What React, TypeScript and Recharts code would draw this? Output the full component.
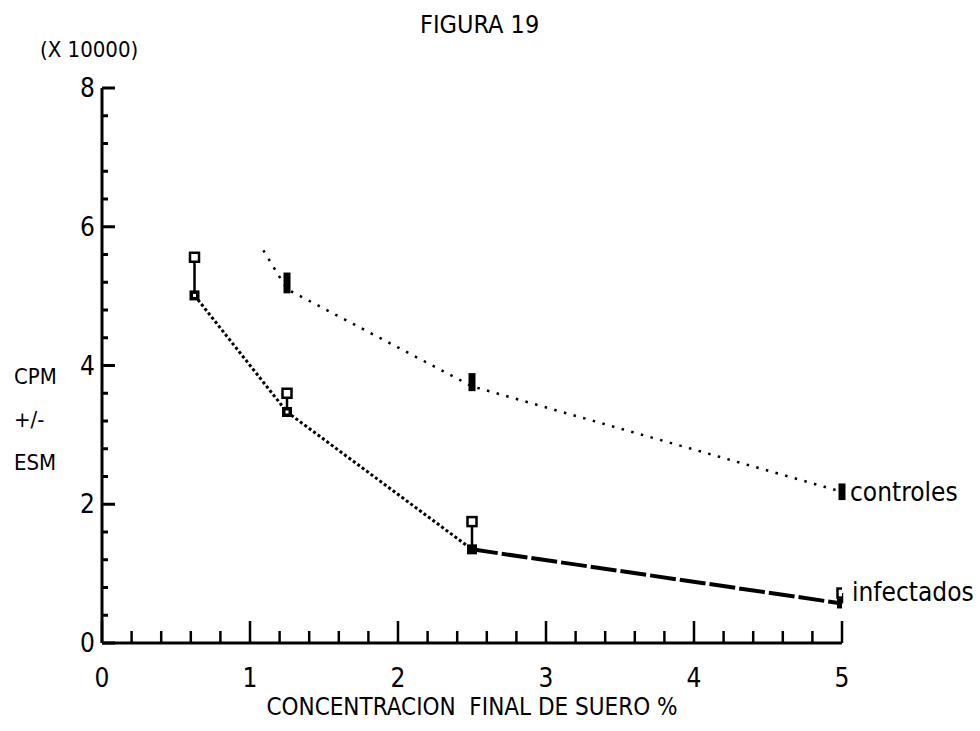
import React from 'react';
import { ComposedChart, Line, Scatter, XAxis, YAxis, ErrorBar } from 'recharts';

const FONT = "'Liberation Sans Narrow', 'DejaVu Sans Condensed', 'Liberation Sans', sans-serif";

const chartTitle = 'FIGURA 19';
const yUnitLabel = '(X 10000)';
const yAxisTitleLines = ['CPM', '+/-', 'ESM'];
const xAxisTitle = 'CONCENTRACION  FINAL DE SUERO %';
const seriesNames = ['controles', 'infectados'];

const xTicks = [0, 0.2, 0.4, 0.6, 0.8, 1, 1.2, 1.4, 1.6, 1.8, 2, 2.2, 2.4, 2.6, 2.8, 3, 3.2, 3.4, 3.6, 3.8, 4, 4.2, 4.4, 4.6, 4.8, 5];
const yTicks = [0, 0.4, 0.8, 1.2, 1.6, 2, 2.4, 2.8, 3.2, 3.6, 4, 4.4, 4.8, 5.2, 5.6, 6, 6.4, 6.8, 7.2, 7.6, 8];
const xTickLabels = ['0', '1', '2', '3', '4', '5'];
const yTickLabels = ['0', '', '2', '', '4', '', '6', '', '8'];

// infectados
const infectedConc = [0.625, 1.25, 2.5, 5];
const infectedMean = [5.01, 3.33, 1.35, 0.57];
const infectedUpper = [5.56, 3.6, 1.75, 0.72];

// controles
const controlConc = [1.25, 2.5, 5];
const controlMean = [5.19, 3.76, 2.18];
const controlSem = [0.15, 0.13, 0.12];

// dotted curve drawn for controles
const controlLineConc = [1.09, 1.25, 2.5, 5];
const controlLineValue = [5.66, 5.1, 3.7, 2.18];

const infectedData = infectedConc.map((x, i) => ({
  x,
  y: infectedMean[i],
  err: [0, +(infectedUpper[i] - infectedMean[i]).toFixed(3)],
  idx: i,
}));
const infectedFirst = infectedData.slice(0, 3);
const infectedSecond = infectedData.slice(2);
const infectedUpperData = infectedConc.map((x, i) => ({ x, y: infectedUpper[i] }));
const controlData = controlConc.map((x, i) => ({ x, y: controlMean[i], sem: controlSem[i] }));
const controlLine = controlLineConc.map((x, i) => ({ x, y: controlLineValue[i] }));

const isInt = (v: number) => Math.abs(v - Math.round(v)) < 1e-6;

const XTick = (props: any) => {
  const { x, y, payload } = props;
  const v = payload.value as number;
  const major = isInt(v);
  return (
    <g>
      <line x1={x} x2={x} y1={y} y2={y - (major ? 22 : 12)} stroke="#000" strokeWidth={2.5} />
      {major && (
        <text x={x} y={y + 44} textAnchor="middle" fontFamily={FONT} fontSize={26} fill="#000">
          {xTickLabels[Math.round(v)]}
        </text>
      )}
    </g>
  );
};

const YTick = (props: any) => {
  const { x, y, payload } = props;
  const v = payload.value as number;
  const major = isInt(v / 2);
  return (
    <g>
      <line x1={x} x2={x + (major ? 13 : 6)} y1={y} y2={y} stroke="#000" strokeWidth={3} />
      {major && (
        <text x={x - 7} y={y + 9} textAnchor="end" fontFamily={FONT} fontSize={26} fill="#000">
          {yTickLabels[Math.round(v)]}
        </text>
      )}
    </g>
  );
};

const XTitle = (props: any) => {
  const vb = props.viewBox || { x: 0, y: 0, width: 0 };
  return (
    <text x={vb.x + vb.width * 0.5} y={vb.y + 72} textAnchor="middle" fontFamily={FONT} fontSize={24} fill="#000" style={{ whiteSpace: 'pre' }}>
      {xAxisTitle}
    </text>
  );
};

const YTitle = (props: any) => {
  const vb = props.viewBox || { x: 0, y: 0, height: 0 };
  const ax = vb.x + (vb.width || 0);
  return (
    <g fontFamily={FONT} fontSize={22} fill="#000">
      <text x={ax - 62} y={vb.y - 31}>{yUnitLabel}</text>
      {yAxisTitleLines.map((t, i) => (
        <text key={t} x={ax - 88} y={vb.y + 296 + i * 43}>{t}</text>
      ))}
    </g>
  );
};

const OpenSquare = (props: any) => {
  const { cx, cy } = props;
  if (cx == null || cy == null) return <g />;
  return <rect x={cx - 4.5} y={cy - 4.5} width={9} height={9} fill="#fff" stroke="#000" strokeWidth={2.5} />;
};

const MainMarker = (props: any) => {
  const { cx, cy, payload } = props;
  if (cx == null || cy == null) return <g />;
  const solid = payload && payload.idx >= 2;
  return (
    <g>
      <rect x={cx - 5} y={cy - 5} width={10} height={10} fill="#000" />
      {!solid && <rect x={cx - 1.5} y={cy - 1.5} width={3} height={3} fill="#fff" />}
    </g>
  );
};

const Empty = () => <g />;

const controlLabel = (props: any) => {
  const { x, y, index } = props;
  if (index !== controlLine.length - 1) return <g />;
  return (
    <text x={x + 8} y={y + 9} fontFamily={FONT} fontSize={26} fill="#000">
      {seriesNames[0]}
    </text>
  );
};

const infectedLabel = (props: any) => {
  const { x, y, index } = props;
  if (index !== infectedSecond.length - 1) return <g />;
  return (
    <text x={x + 10} y={y - 2} fontFamily={FONT} fontSize={26} fill="#000">
      {seriesNames[1]}
    </text>
  );
};

export default function App() {
  return (
    <div style={{ position: 'absolute', left: 0, top: 0, width: 980, height: 731, background: '#fff' }}>
      <div
        style={{
          position: 'absolute',
          left: 420,
          top: 10,
          fontFamily: FONT,
          fontSize: 25,
          color: '#000',
          whiteSpace: 'pre',
          lineHeight: '30px',
        }}
      >
        {chartTitle}
      </div>
      <ComposedChart width={980} height={731} margin={{ top: 88, right: 138, bottom: 78, left: 92 }}>
        <XAxis
          type="number"
          dataKey="x"
          domain={[0, 5]}
          ticks={xTicks}
          interval={0}
          height={10}
          tickSize={0}
          tickMargin={0}
          tickLine={false}
          tick={<XTick />}
          axisLine={{ stroke: '#000', strokeWidth: 3 }}
          allowDataOverflow
          label={<XTitle />}
        />
        <YAxis
          type="number"
          domain={[0, 8]}
          ticks={yTicks}
          interval={0}
          width={10}
          tickSize={0}
          tickMargin={0}
          tickLine={false}
          tick={<YTick />}
          axisLine={{ stroke: '#000', strokeWidth: 3 }}
          allowDataOverflow
          label={<YTitle />}
        />
        <Line
          data={controlLine}
          dataKey="y"
          type="linear"
          stroke="#000"
          strokeWidth={2.5}
          strokeDasharray="2.5 7.5"
          dot={false}
          activeDot={false}
          isAnimationActive={false}
          label={controlLabel}
        />
        <Line
          data={infectedFirst}
          dataKey="y"
          type="linear"
          stroke="#000"
          strokeWidth={3}
          strokeDasharray="3 2.5"
          dot={false}
          activeDot={false}
          isAnimationActive={false}
        />
        <Line
          data={infectedSecond}
          dataKey="y"
          type="linear"
          stroke="#000"
          strokeWidth={4}
          strokeDasharray="26 4"
          dot={false}
          activeDot={false}
          isAnimationActive={false}
          label={infectedLabel}
        />
        <Scatter data={controlData} dataKey="y" shape={<Empty />} isAnimationActive={false}>
          <ErrorBar dataKey="sem" direction="y" width={0} strokeWidth={7} stroke="#000" isAnimationActive={false} />
        </Scatter>
        <Scatter data={infectedData} dataKey="y" shape={<MainMarker />} isAnimationActive={false}>
          <ErrorBar dataKey="err" direction="y" width={0} strokeWidth={2.5} stroke="#000" isAnimationActive={false} />
        </Scatter>
        <Scatter data={infectedUpperData} dataKey="y" shape={<OpenSquare />} isAnimationActive={false} />
      </ComposedChart>
    </div>
  );
}
